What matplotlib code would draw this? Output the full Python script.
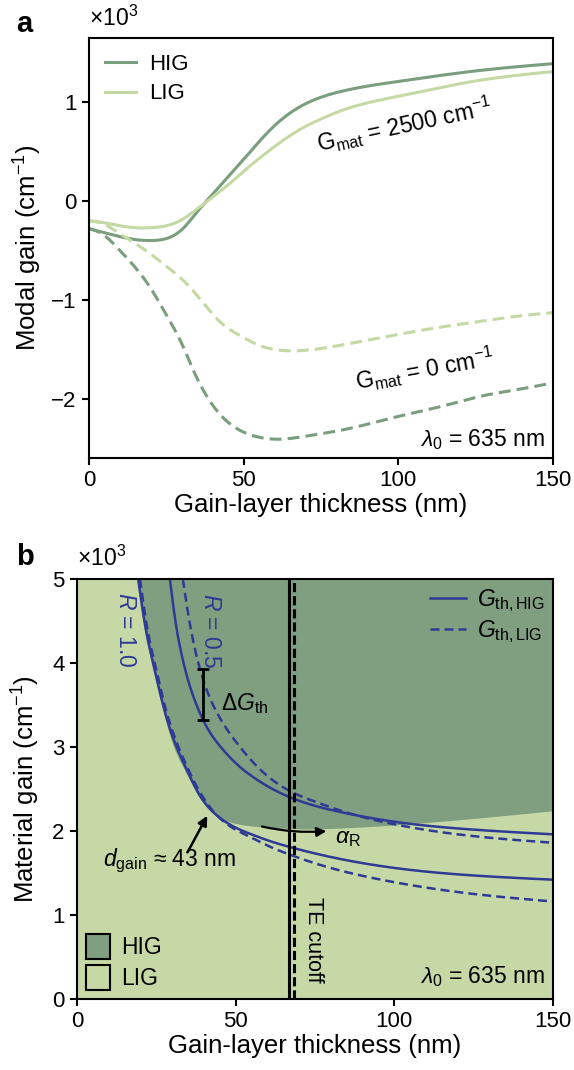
import matplotlib
matplotlib.use("Agg")
import matplotlib.pyplot as plt
import numpy as np
from matplotlib.lines import Line2D
from matplotlib.patches import Patch

plt.rcParams["font.family"] = ["Liberation Sans", "DejaVu Sans"]
plt.rcParams["mathtext.fontset"] = "custom"
plt.rcParams["mathtext.rm"] = "Liberation Sans"
plt.rcParams["mathtext.it"] = "Liberation Sans:italic"
plt.rcParams["mathtext.default"] = "regular"
plt.rcParams["axes.linewidth"] = 1.5

HIG_GREEN = "#7a9e7e"
LIG_GREEN = "#c4d9a4"
HIG_FILL = "#7f9f80"
LIG_FILL = "#c5d8a5"
BLUE = "#2e3a94"

# panel a: modal gain vs gain-layer thickness (x1e3 cm^-1)
thick_a = [0, 5, 10, 15, 20, 25, 30, 35, 38, 42, 46, 50, 55, 61.7, 68, 75, 83, 100, 126, 150]
hig_2500 = [-0.28, -0.32, -0.36, -0.39, -0.40, -0.38, -0.29, -0.11, 0.0, 0.14, 0.28, 0.42,
            0.60, 0.81, 0.95, 1.05, 1.12, 1.21, 1.32, 1.39]
lig_2500 = [-0.20, -0.22, -0.25, -0.27, -0.27, -0.25, -0.19, -0.08, -0.01, 0.09, 0.19, 0.30,
            0.43, 0.59, 0.72, 0.83, 0.93, 1.06, 1.22, 1.31]

thick_a0 = [0, 3.6, 10, 19.7, 25, 30.4, 34, 38, 43, 48.8, 55, 61.8, 70, 83, 100, 115, 126,
            140, 150]
hig_0 = [-0.28, -0.32, -0.50, -0.87, -1.15, -1.47, -1.73, -1.97, -2.18, -2.32, -2.39, -2.41,
         -2.38, -2.31, -2.18, -2.07, -1.98, -1.90, -1.84]
lig_0 = [-0.20, -0.22, -0.33, -0.53, -0.66, -0.80, -0.92, -1.07, -1.24, -1.36, -1.46, -1.51,
         -1.51, -1.45, -1.35, -1.27, -1.22, -1.16, -1.13]

# panel b: threshold material gain (x1e3 cm^-1)
r1_hig_x = [19.3, 21.5, 24, 27.5, 31.4, 35, 38, 42, 46, 50, 55, 60, 67, 80, 100, 125, 150]
r1_hig_y = [5.0, 4.45, 4.0, 3.45, 3.0, 2.7, 2.47, 2.26, 2.13, 2.04, 1.96, 1.89, 1.81, 1.69,
            1.56, 1.47, 1.42]
r1_lig_x = [19.9, 22, 24.5, 28, 32, 35.5, 38.5, 42, 47, 54.5, 61, 67, 73, 85, 100, 125, 150]
r1_lig_y = [5.0, 4.45, 4.0, 3.45, 3.0, 2.7, 2.48, 2.28, 2.09, 1.93, 1.81, 1.72, 1.64, 1.51,
            1.39, 1.25, 1.16]
r05_hig_x = [29.3, 31, 33, 35, 37.5, 39.8, 42.5, 45.1, 50, 55.6, 66, 75, 85, 100, 120, 150]
r05_hig_y = [5.0, 4.51, 4.10, 3.80, 3.52, 3.32, 3.14, 3.01, 2.81, 2.64, 2.42, 2.30, 2.21,
             2.11, 2.03, 1.96]
r05_lig_x = [33.4, 35, 37, 39.8, 45, 51.4, 57, 65, 75, 85, 100, 120, 150]
r05_lig_y = [5.0, 4.6, 4.2, 3.8, 3.35, 3.0, 2.76, 2.52, 2.35, 2.22, 2.08, 1.96, 1.86]

# lower edge of the HIG lasing region
hig_edge_x = [18.9, 21, 23.5, 27, 30.5, 34, 37, 41, 45, 50, 55, 62, 70, 80, 110, 150]
hig_edge_y = [5.0, 4.45, 4.0, 3.45, 3.0, 2.72, 2.5, 2.28, 2.16, 2.09, 2.06, 2.04, 2.025,
              2.03, 2.10, 2.24]

te_cutoff_hig = 66.8
te_cutoff_lig = 68.3
d_gain = 43
delta_g_x = 39.8
delta_g_low, delta_g_high = 3.32, 3.93


def smooth(xs, ys, n=400):
    # natural cubic spline through the read points
    xs = np.asarray(xs, float)
    ys = np.asarray(ys, float)
    k = len(xs)
    h = np.diff(xs)
    a = np.zeros((k, k))
    r = np.zeros(k)
    a[0, 0] = a[-1, -1] = 1.0
    for i in range(1, k - 1):
        a[i, i - 1] = h[i - 1]
        a[i, i] = 2 * (h[i - 1] + h[i])
        a[i, i + 1] = h[i]
        r[i] = 6 * ((ys[i + 1] - ys[i]) / h[i] - (ys[i] - ys[i - 1]) / h[i - 1])
    m = np.linalg.solve(a, r)
    xn = np.linspace(xs[0], xs[-1], n)
    idx = np.clip(np.searchsorted(xs, xn) - 1, 0, k - 2)
    x0, x1 = xs[idx], xs[idx + 1]
    hi = h[idx]
    yn = (m[idx] * (x1 - xn) ** 3 / (6 * hi) + m[idx + 1] * (xn - x0) ** 3 / (6 * hi)
          + (ys[idx] / hi - m[idx] * hi / 6) * (x1 - xn)
          + (ys[idx + 1] / hi - m[idx + 1] * hi / 6) * (xn - x0))
    return xn, yn


def style_axis(axis):
    axis.tick_params(direction="out", length=5, width=1.5, labelsize=16, pad=4)
    axis.set_xlim(0, 150)
    axis.set_xticks([0, 50, 100, 150])


figure = plt.figure(figsize=(5.74, 10.70), dpi=100)

# ---- panel a ----
ax_a = figure.add_axes([0.155, 0.572, 0.808, 0.3925])
lw = 2.2
ax_a.plot(*smooth(thick_a, hig_2500), color=HIG_GREEN, lw=lw, label="HIG")
ax_a.plot(*smooth(thick_a, lig_2500), color=LIG_GREEN, lw=lw, label="LIG")
ax_a.plot(*smooth(thick_a0, hig_0), color=HIG_GREEN, lw=lw, dashes=(3.9, 2))
ax_a.plot(*smooth(thick_a0, lig_0), color=LIG_GREEN, lw=lw, dashes=(3.9, 2))
style_axis(ax_a)
ax_a.set_ylim(-2.6, 1.65)
ax_a.set_yticks([-2, -1, 0, 1])
ax_a.set_yticklabels(["\u22122", "\u22121", "0", "1"])
ax_a.set_xlabel("Gain-layer thickness (nm)", fontsize=18.5, labelpad=1)
ax_a.set_ylabel("Modal gain (cm$^{\u22121}$)", fontsize=18.5, labelpad=5)
ax_a.legend(loc="upper left", frameon=False, fontsize=16, handlelength=1.4,
            handletextpad=0.6, labelspacing=0.4, borderaxespad=0.3)
ax_a.text(102, 0.77, "G$_{\\mathrm{mat}}$ = 2500 cm$^{\u22121}$", fontsize=16.5,
          rotation=12, ha="center", va="center")
ax_a.text(108.5, -1.7, "G$_{\\mathrm{mat}}$ = 0 cm$^{\u22121}$", fontsize=16.5,
          rotation=10, ha="center", va="center")
ax_a.text(147.5, -2.41, "$\\mathit{\\lambda}_0$ = 635 nm", fontsize=16.5, ha="right",
          va="center")
ax_a.text(0.0, 1.028, "\u00d710$^3$", transform=ax_a.transAxes, fontsize=16.5,
          ha="left", va="baseline")
figure.text(0.028, 0.978, "a", fontsize=21, fontweight="bold", va="center")

# ---- panel b ----
ax_b = figure.add_axes([0.134, 0.0664, 0.829, 0.3925])
ax_b.set_facecolor(LIG_FILL)
ex, ey = smooth(hig_edge_x, hig_edge_y)
ax_b.fill_between(ex, ey, 5.2, color=HIG_FILL, lw=0)

blw = 1.8
ax_b.plot(*smooth(r1_hig_x, r1_hig_y), color=BLUE, lw=blw)
ax_b.plot(*smooth(r1_lig_x, r1_lig_y), color=BLUE, lw=blw, dashes=(3.6, 2))
ax_b.plot(*smooth(r05_hig_x, r05_hig_y), color=BLUE, lw=blw)
ax_b.plot(*smooth(r05_lig_x, r05_lig_y), color=BLUE, lw=blw, dashes=(3.6, 2))

ax_b.axvline(te_cutoff_hig, color="black", lw=2.2)
ax_b.axvline(te_cutoff_lig, color="black", lw=2.2, dashes=(3, 1.3))

style_axis(ax_b)
ax_b.set_ylim(0, 5)
ax_b.set_yticks([0, 1, 2, 3, 4, 5])
ax_b.set_xlabel("Gain-layer thickness (nm)", fontsize=18.5, labelpad=1)
ax_b.set_ylabel("Material gain (cm$^{\u22121}$)", fontsize=18.5, labelpad=7)

# threshold gap between the two R = 0.5 curves
mid = 0.5 * (delta_g_low + delta_g_high)
half = 0.5 * (delta_g_high - delta_g_low)
ax_b.errorbar([delta_g_x], [mid], yerr=[[half], [half]], fmt="none", ecolor="black",
              elinewidth=2, capsize=4, capthick=2)
ax_b.text(45.5, 3.52, "$\\Delta$$\\mathit{G}_{\\mathrm{th}}$", fontsize=16.5,
          ha="left", va="center")

ax_b.text(15.4, 4.40, "$\\mathit{R}$ = 1.0", color=BLUE, fontsize=16.5, rotation=-90,
          ha="center", va="center")
ax_b.text(42.0, 4.38, "$\\mathit{R}$ = 0.5", color=BLUE, fontsize=16.5, rotation=-90,
          ha="center", va="center")
ax_b.text(74.6, 0.70, "TE cutoff", fontsize=15.5, rotation=-90, ha="center",
          va="center")

ax_b.annotate("", xy=(41.5, 2.21), xytext=(34.5, 1.72),
              arrowprops={"arrowstyle": "-|>", "lw": 1.8, "color": "black",
                          "mutation_scale": 14})
ax_b.text(8.2, 1.65, "$\\mathit{d}_{\\mathrm{gain}}$ \u2248 %d nm" % d_gain,
          fontsize=16.5, ha="left", va="center")

ax_b.annotate("", xy=(79.5, 2.0), xytext=(57.5, 2.06),
              arrowprops={"arrowstyle": "-|>", "lw": 1.6, "color": "black",
                          "mutation_scale": 14,
                          "connectionstyle": "arc3,rad=0.08"})
ax_b.text(81.5, 1.92, "$\\mathit{\\alpha}_{\\mathrm{R}}$", fontsize=16.5,
          ha="left", va="center")
ax_b.text(147.5, 0.27, "$\\mathit{\\lambda}_0$ = 635 nm", fontsize=16.5, ha="right",
          va="center")

line_handles = [
    Line2D([], [], color=BLUE, lw=blw),
    Line2D([], [], color=BLUE, lw=blw, dashes=(3.6, 2)),
]
leg1 = ax_b.legend(line_handles, ["$\\mathit{G}_{\\mathrm{th,HIG}}$",
                                  "$\\mathit{G}_{\\mathrm{th,LIG}}$"],
                   loc="upper right", frameon=False, fontsize=16.5,
                   handlelength=1.55, handletextpad=0.5, labelspacing=0.2,
                   borderaxespad=0.05, borderpad=0.3)
ax_b.add_artist(leg1)
patch_handles = [
    Patch(facecolor=HIG_FILL, edgecolor="black", lw=1.5),
    Patch(facecolor=LIG_FILL, edgecolor="black", lw=1.5),
]
ax_b.legend(patch_handles, ["HIG", "LIG"], loc="lower left", frameon=False,
            fontsize=16.5, handlelength=1.05, handleheight=1.3, handletextpad=0.5,
            labelspacing=0.25, borderaxespad=0.1, borderpad=0.3)
ax_b.text(0.0, 1.03, "\u00d710$^3$", transform=ax_b.transAxes, fontsize=16.5,
          ha="left", va="baseline")
figure.text(0.028, 0.479, "b", fontsize=21, fontweight="bold", va="center")

figure.savefig("out.png", dpi=100)
